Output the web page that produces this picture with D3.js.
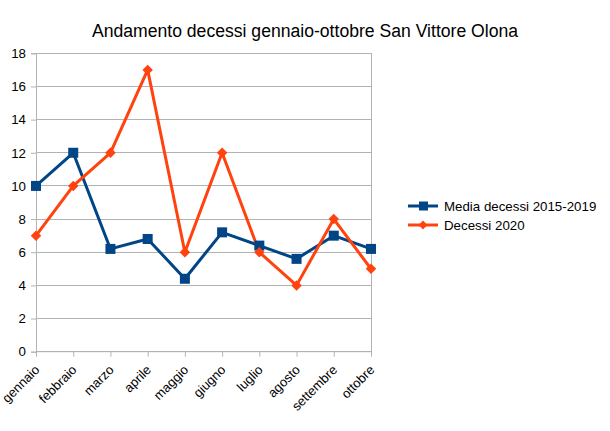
<!DOCTYPE html>
<html><head><meta charset="utf-8">
<script src="https://cdn.jsdelivr.net/npm/d3@7"></script>
<style>body{margin:0;background:#fff}svg{font-family:"Liberation Sans",Arial,sans-serif}</style>
</head><body>
<svg id="c" width="610" height="431"></svg>
<script>
const months = ["gennaio","febbraio","marzo","aprile","maggio","giugno","luglio","agosto","settembre","ottobre"];
const media = [10,12,6.2,6.8,4.4,7.2,6.4,5.6,7,6.2];
const decessi2020 = [7,10,12,17,6,12,6,4,8,5];
const yTicks = [0,2,4,6,8,10,12,14,16,18];
const seriesNames = ["Media decessi 2015-2019","Decessi 2020"];
const colors = ["#004586","#ff420e"];

const svg = d3.select("#c");
const L=36,R=371,T=53.3,B=351.7;
const FS = 13.3;
const x = d3.scalePoint().domain(months).range([L,R]);
const y = d3.scaleLinear().domain([0,18]).range([B,T]);

svg.append("text").attr("x",305).attr("y",37).attr("text-anchor","middle")
  .attr("font-size",17.6).attr("fill","#000").text("Andamento decessi gennaio-ottobre San Vittore Olona");

// grid
svg.append("g").selectAll("line").data(yTicks).join("line")
  .attr("x1",L).attr("x2",R).attr("y1",d=>y(d)).attr("y2",d=>y(d))
  .attr("stroke","#b3b3b3").attr("stroke-width",1).attr("shape-rendering","crispEdges");
svg.append("line").attr("x1",R).attr("x2",R).attr("y1",T).attr("y2",B).attr("stroke","#b3b3b3").attr("shape-rendering","crispEdges");

// y axis
const ya = svg.append("g").attr("transform",`translate(${L},0)`)
  .call(d3.axisLeft(y).tickValues(yTicks).tickSize(5).tickPadding(5).tickFormat(d3.format("d")));
ya.select(".domain").attr("stroke","#b3b3b3");
ya.selectAll(".tick line").attr("stroke","#b3b3b3");
ya.selectAll("text").attr("font-size",FS).attr("fill","#000").attr("font-family","Liberation Sans, Arial, sans-serif");

// x axis
const xa = svg.append("g").attr("transform",`translate(0,${B})`)
  .call(d3.axisBottom(x).tickSize(5).tickPadding(4));
xa.select(".domain").attr("stroke","#b3b3b3").attr("d",`M${L},0H${R}`);
xa.selectAll(".tick line").attr("stroke","#b3b3b3");
xa.selectAll("text").attr("font-size",13).attr("fill","#000").attr("font-family","Liberation Sans, Arial, sans-serif")
  .attr("text-anchor","end").attr("dy","0").attr("transform","translate(-2.6,12.6) rotate(-45)");

const line = d3.line().x((d,i)=>x(months[i])).y(d=>y(d));
const data = [media, decessi2020];
data.forEach((s,k)=>{
  svg.append("path").datum(s).attr("d",line).attr("fill","none").attr("stroke",colors[k]).attr("stroke-width",3).attr("stroke-linejoin","round");
});
// markers
svg.append("g").selectAll("rect").data(media).join("rect")
  .attr("x",(d,i)=>x(months[i])-5).attr("y",d=>y(d)-5).attr("width",10).attr("height",10).attr("fill",colors[0]);
const diamond = d3.symbol().type(d3.symbolDiamond2).size(70);
svg.append("g").selectAll("path").data(decessi2020).join("path")
  .attr("d",diamond).attr("transform",(d,i)=>`translate(${x(months[i])},${y(d)})`).attr("fill",colors[1]);

// legend
const lg = svg.append("g");
seriesNames.forEach((n,k)=>{
  const yy = 206 + k*19;
  lg.append("line").attr("x1",408).attr("x2",438).attr("y1",yy).attr("y2",yy).attr("stroke",colors[k]).attr("stroke-width",3);
  if(k===0) lg.append("rect").attr("x",419).attr("y",yy-4.5).attr("width",9).attr("height",9).attr("fill",colors[0]);
  else lg.append("path").attr("d",d3.symbol().type(d3.symbolDiamond2).size(50)).attr("transform",`translate(423,${yy})`).attr("fill",colors[1]);
  lg.append("text").attr("x",444).attr("y",yy+4.8).attr("font-size",FS).attr("fill","#000").text(n);
});
</script>
</body></html>
